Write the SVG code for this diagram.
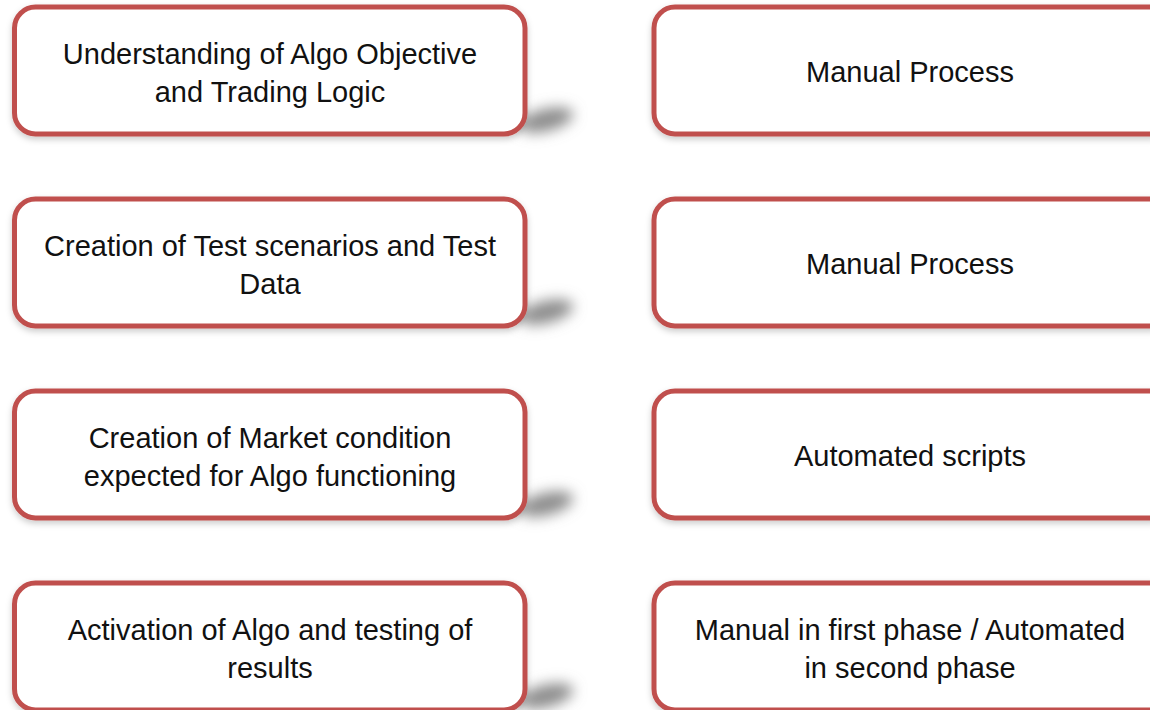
<svg xmlns="http://www.w3.org/2000/svg" width="1150" height="710" viewBox="0 0 1150 710">
<defs>
<filter id="ds" x="-10%" y="-20%" width="120%" height="150%">
<feDropShadow dx="0" dy="3" stdDeviation="3" flood-color="#000" flood-opacity="0.2"/>
</filter>
<filter id="blur" x="-100%" y="-150%" width="300%" height="400%">
<feGaussianBlur stdDeviation="7"/>
</filter>
<g id="pshadow" filter="url(#blur)">
<ellipse cx="0" cy="0" rx="28" ry="11" fill="#8c8c8c" transform="rotate(-14)"/>
</g>
</defs>
<style>
.box{fill:#fff;stroke:#c0504d;stroke-width:5;}
.t{font-family:"Liberation Sans",Arial,sans-serif;font-size:29px;fill:#111;text-anchor:middle;}
</style>
<rect width="1150" height="710" fill="#fff"/>
<g id="connectors"></g>

<g id="n1">
<use href="#pshadow" x="546" y="120"/>
<rect class="box" x="14.5" y="7" width="510.5" height="127" rx="21" filter="url(#ds)"/>
<text class="t" x="270" y="63.5">Understanding of Algo Objective</text>
<text class="t" x="270" y="101.5">and Trading Logic</text>
</g>
<g id="n2">
<rect class="box" x="654" y="7" width="520" height="127" rx="21" filter="url(#ds)"/>
<text class="t" x="910" y="81.5">Manual Process</text>
</g>

<g id="n3">
<use href="#pshadow" x="546" y="312"/>
<rect class="box" x="14.5" y="199" width="510.5" height="127" rx="21" filter="url(#ds)"/>
<text class="t" x="270" y="255.5">Creation of Test scenarios and Test</text>
<text class="t" x="270" y="293.5">Data</text>
</g>
<g id="n4">
<rect class="box" x="654" y="199" width="520" height="127" rx="21" filter="url(#ds)"/>
<text class="t" x="910" y="273.5">Manual Process</text>
</g>

<g id="n5">
<use href="#pshadow" x="546" y="504"/>
<rect class="box" x="14.5" y="391" width="510.5" height="127" rx="21" filter="url(#ds)"/>
<text class="t" x="270" y="447.5">Creation of Market condition</text>
<text class="t" x="270" y="485.5">expected for Algo functioning</text>
</g>
<g id="n6">
<rect class="box" x="654" y="391" width="520" height="127" rx="21" filter="url(#ds)"/>
<text class="t" x="910" y="465.5">Automated scripts</text>
</g>

<g id="n7">
<use href="#pshadow" x="546" y="696"/>
<rect class="box" x="14.5" y="583" width="510.5" height="127" rx="21" filter="url(#ds)"/>
<text class="t" x="270" y="639.5">Activation of Algo and testing of</text>
<text class="t" x="270" y="677.5">results</text>
</g>
<g id="n8">
<rect class="box" x="654" y="583" width="520" height="127" rx="21" filter="url(#ds)"/>
<text class="t" x="910" y="639.5">Manual in first phase / Automated</text>
<text class="t" x="910" y="677.5">in second phase</text>
</g>
</svg>
